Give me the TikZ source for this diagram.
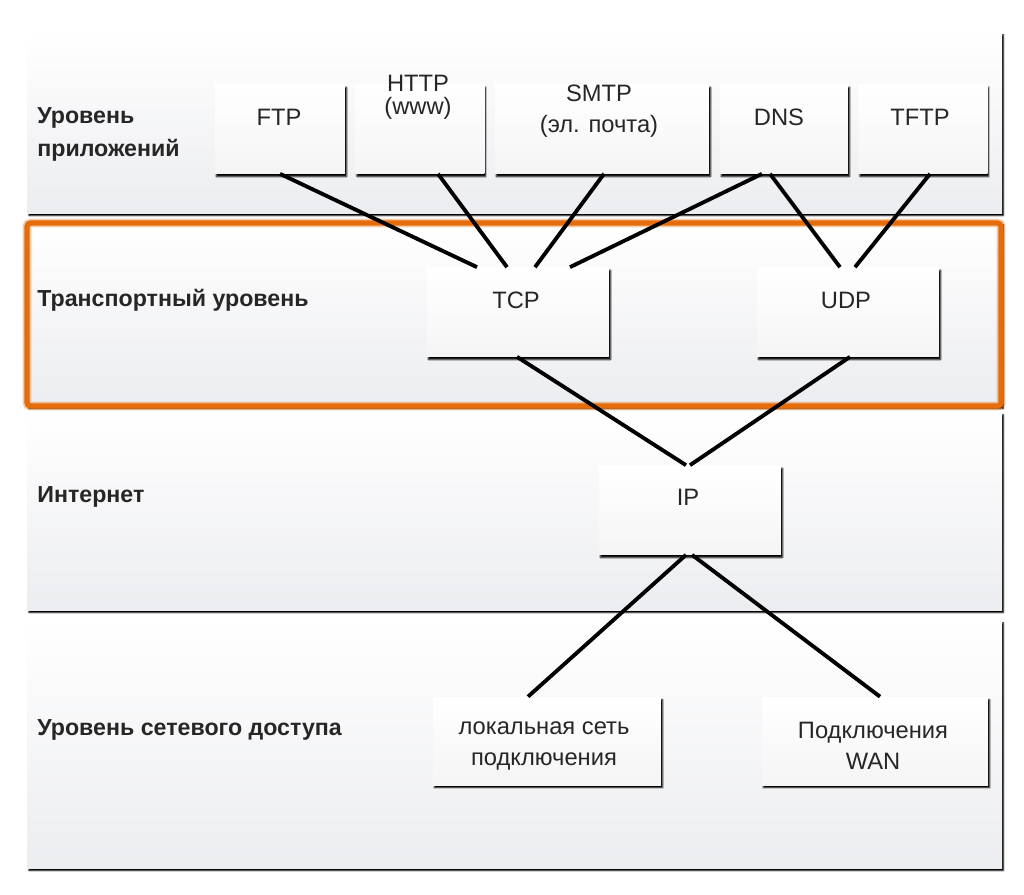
\documentclass[tikz,border=0pt]{standalone}
\usepackage{fontspec}
\setmainfont{Liberation Sans}
\usetikzlibrary{shadows.blur}
\definecolor{framecol}{RGB}{228,108,10}
\definecolor{panelgray}{RGB}{236,237,240}

\begin{document}
\begin{tikzpicture}[x=0.02cm, y=-0.02cm,
    panel/.style={top color=white, bottom color=panelgray,
        blur shadow={shadow xshift=1pt, shadow yshift=-1.6pt, shadow blur radius=0.6pt,
            shadow blur steps=3, shadow opacity=100}},
    proto/.style={minimum width=#1, minimum height=1.78cm, inner sep=0pt,
        top color=white, bottom color=gray!8,
        blur shadow={shadow xshift=0.8pt, shadow yshift=-1.6pt, shadow blur radius=0.6pt,
            shadow blur steps=3, shadow opacity=100}},
    lbl/.style={font=\fontsize{13.5}{18}\selectfont, text=black!85, align=center, inner sep=0pt},
    layer/.style={font=\bfseries\fontsize{13.2}{18.7}\selectfont, text=black!85, align=left, anchor=west, inner sep=0pt},
    link/.style={line width=2.2pt, black}]

    \useasboundingbox (0,0) rectangle (1024,894);

    % Add layer panels
    \path[panel] (27,32) rectangle (1002,213);
    \path[panel] (27,222) rectangle (1002,406);
    \path[panel] (27,412) rectangle (1002,610);
    \path[panel] (27,620) rectangle (1002,868);

    % highlight the transport layer
    \draw[framecol, opacity=0.35, line width=5pt, rounded corners=2pt] (27,223) rectangle (1001,406);
    \draw[framecol, line width=3pt, rounded corners=2pt] (27,223) rectangle (1001,406);

    % layer names
    \node[layer] (app) at (37,134) {Уровень\\приложений};
    \node[layer] (trans) at (37,300) {Транспортный уровень};
    \node[layer] (inet) at (37,497) {Интернет};
    \node[layer] (access) at (37,730) {Уровень сетевого доступа};

    % protocol boxes
    \node[proto=2.6cm] (ftp) at (280,129) {};
    \node[proto=2.58cm] (http) at (420,129) {};
    \node[proto=4.28cm] (smtp) at (602,129) {};
    \node[proto=2.56cm] (dns) at (784,129) {};
    \node[proto=2.58cm] (tftp) at (923,129) {};
    \node[proto=3.64cm] (tcp) at (518,312) {};
    \node[proto=3.64cm] (udp) at (848,312) {};
    \node[proto=3.64cm] (ip) at (690,510) {};
    \node[proto=4.56cm, minimum height=1.76cm] (lan) at (547,741) {};
    \node[proto=4.52cm, minimum height=1.76cm] (wan) at (875,741) {};

    % texts of the boxes
    \node[lbl] (ftptxt) at (279,117) {FTP};
    \node[lbl, font=\fontsize{13.5}{13}\selectfont] (httptxt) at (418,97) {HTTP\\(www)};
    \node[lbl] (smtptxt) at (599,111) {SMTP\\(эл. почта)};
    \node[lbl] (dnstxt) at (779,117) {DNS};
    \node[lbl] (tftptxt) at (920,117) {TFTP};
    \node[lbl] (tcptxt) at (516,300) {TCP};
    \node[lbl] (udptxt) at (846,300) {UDP};
    \node[lbl] (iptxt) at (688,497) {IP};
    \node[lbl] (lantxt) at (544,746) {локальная сеть\\подключения};
    \node[lbl] (wantxt) at (873,746) {Подключения\\WAN};

    % links between the layers
    \draw[link] (ftp.south) -- ([xshift=-0.82cm]tcp.north);
    \draw[link] ([xshift=0.36cm]http.south) -- ([xshift=-0.22cm]tcp.north);
    \draw[link] ([xshift=0.04cm]smtp.south) -- ([xshift=0.34cm]tcp.north);
    \draw[link] ([xshift=-0.44cm]dns.south) -- ([xshift=1.04cm]tcp.north);
    \draw[link] ([xshift=-0.28cm]dns.south) -- ([xshift=-0.16cm]udp.north);
    \draw[link] ([xshift=0.14cm]tftp.south) -- ([xshift=0.14cm]udp.north);
    \draw[link] ([xshift=-0.02cm]tcp.south) -- ([xshift=-0.08cm]ip.north);
    \draw[link] ([xshift=0.04cm]udp.south) -- (ip.north);
    \draw[link] ([xshift=-0.08cm]ip.south) -- ([xshift=-0.38cm]lan.north);
    \draw[link] ([xshift=0.04cm]ip.south) -- ([xshift=0.1cm]wan.north);

\end{tikzpicture}
\end{document}
